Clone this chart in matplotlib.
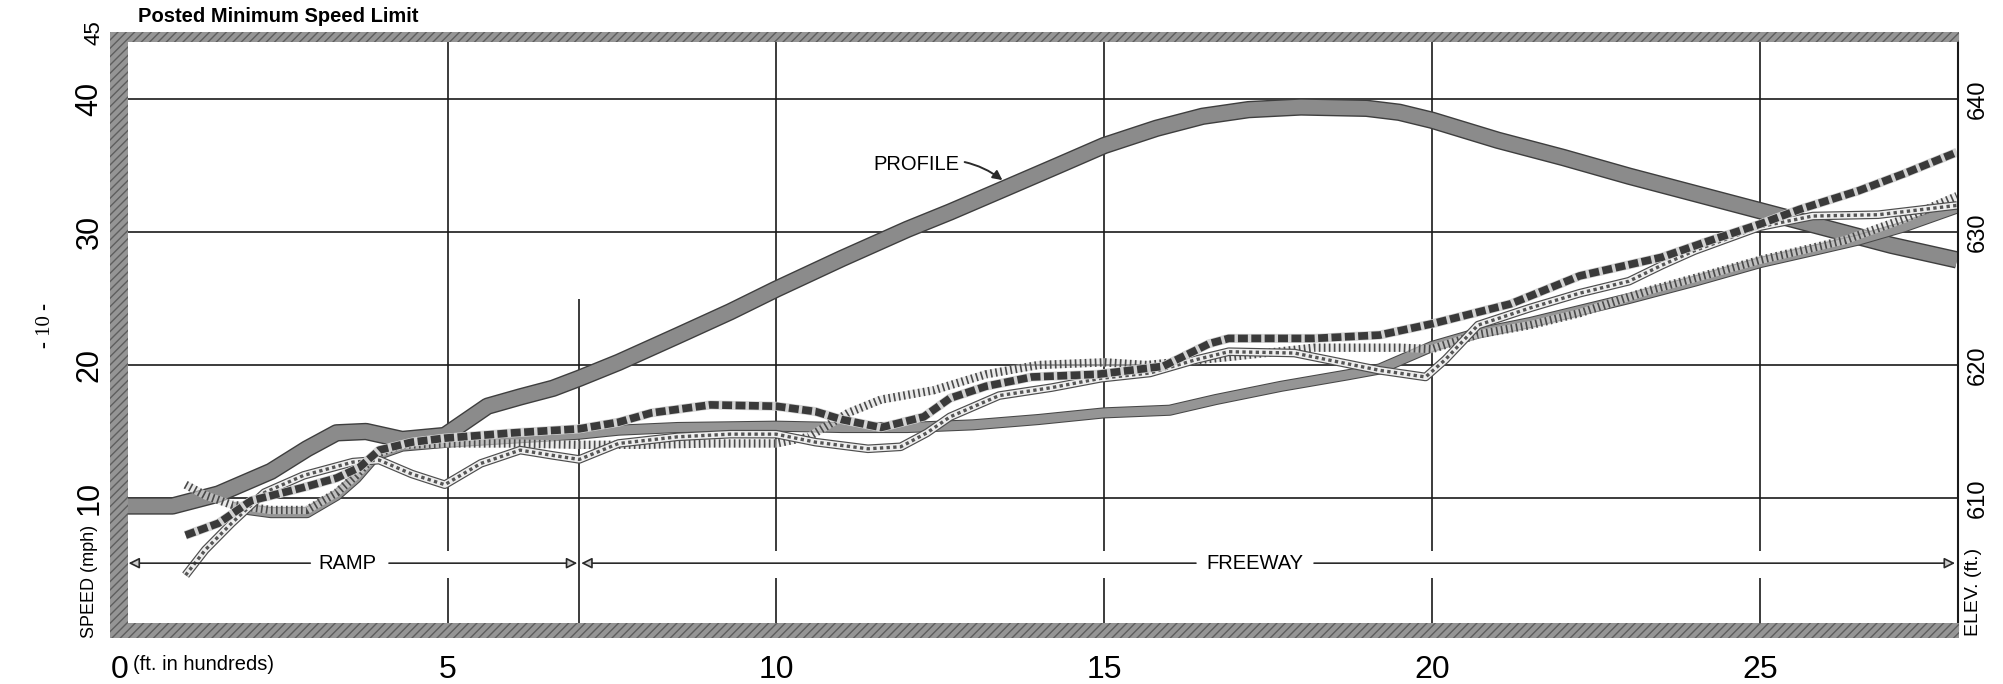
import matplotlib
matplotlib.use("Agg")
import matplotlib.pyplot as plt
from matplotlib.patches import Rectangle
import matplotlib.patheffects as pe

plt.rcParams['font.family'] = ['Liberation Sans', 'DejaVu Sans']

# station along the road, hundreds of feet
profile_x = [0, 0.8, 1.5, 2.3, 2.85, 3.3, 3.75, 4.3, 4.95, 5.6, 6.1, 6.6, 7.0, 7.6,
             8.5, 9.3, 10.0, 11.0, 12.0, 12.65, 13.5, 14.3, 15.0, 15.8, 16.5, 17.2,
             18.0, 19.0, 19.5, 20.0, 21.0, 22.0, 23.0, 24.0, 25.0, 26.0, 27.0, 28.0]
# roadway elevation, ft
profile_elev = [609.4, 609.4, 610.3, 612.0, 613.7, 614.9, 615.0, 614.4, 614.7, 616.9,
                617.6, 618.25, 619.0, 620.2, 622.2, 624.0, 625.7, 628.0, 630.2, 631.5,
                633.3, 635.0, 636.5, 637.8, 638.7, 639.2, 639.4, 639.3, 639.0, 638.4,
                636.9, 635.6, 634.2, 632.9, 631.6, 630.3, 629.0, 627.9]

# speed runs, mph
solid_x = [1.7, 2.3, 2.85, 3.3, 3.6, 3.9, 4.3, 5.0, 6.0, 7.0, 7.6, 8.5, 10.0, 11.0,
           12.0, 13.0, 14.0, 15.0, 16.0, 16.7, 17.7, 18.7, 19.2, 20.0, 20.7, 21.5,
           22.25, 23.0, 24.0, 25.0, 25.8, 26.5, 27.2, 28.0]
solid_mph = [9.3, 8.9, 8.9, 10.2, 11.5, 13.2, 13.9, 14.2, 14.5, 14.8, 15.1, 15.3, 15.4,
             15.3, 15.3, 15.5, 15.9, 16.4, 16.6, 17.4, 18.4, 19.25, 19.7, 21.4, 22.4,
             23.2, 24.1, 25.0, 26.3, 27.7, 28.6, 29.4, 30.4, 31.8]

hatch_x = [1.0, 1.3, 1.7, 2.3, 2.85, 3.3, 3.6, 3.9, 4.3, 5.0, 6.0, 7.0, 8.0, 9.0,
           10.0, 10.5, 11.1, 11.6, 12.4, 13.2, 14.0, 15.0, 15.65, 16.9, 18.2, 19.5,
           20.0, 20.7, 21.5, 22.25, 23.3, 24.2, 25.0, 25.7, 26.3, 27.2, 28.0]
hatch_mph = [11.0, 10.2, 9.5, 9.1, 9.1, 10.4, 11.7, 13.3, 14.0, 14.1, 14.1, 14.0, 14.0,
             14.1, 14.1, 14.6, 16.4, 17.4, 18.1, 19.3, 20.0, 20.2, 20.0, 20.6, 21.3,
             21.3, 21.2, 22.3, 23.0, 23.9, 25.6, 26.8, 27.9, 28.7, 29.4, 31.0, 32.7]

check_x = [1.0, 1.3, 1.7, 2.2, 2.8, 3.55, 3.95, 4.45, 4.95, 5.5, 6.1, 6.6, 7.0, 7.6,
           8.5, 9.3, 10.0, 10.6, 11.4, 11.9, 12.3, 12.65, 13.4, 14.2, 14.95, 15.7,
           16.4, 16.9, 17.9, 18.7, 19.2, 19.9, 20.2, 20.7, 21.5, 22.25, 23.0, 23.5,
           24.0, 25.0, 25.8, 26.8, 28.0]
check_mph = [4.2, 6.1, 8.1, 10.4, 11.7, 12.7, 12.85, 11.8, 11.0, 12.6, 13.6, 13.2, 12.9,
             14.1, 14.6, 14.8, 14.8, 14.2, 13.7, 13.85, 14.9, 16.1, 17.7, 18.3, 19.0,
             19.4, 20.4, 21.0, 20.9, 20.1, 19.6, 19.1, 20.4, 23.0, 24.3, 25.4, 26.3,
             27.5, 28.6, 30.4, 31.2, 31.3, 32.0]

block_x = [1.0, 1.5, 2.0, 2.8, 3.3, 3.65, 3.95, 4.45, 4.95, 6.0, 7.0, 7.6, 8.1, 9.0,
           10.0, 10.6, 11.0, 11.6, 12.25, 12.65, 13.2, 13.9, 14.9, 15.9, 16.6, 16.9,
           18.2, 19.2, 20.0, 21.2, 22.25, 23.5, 24.2, 25.0, 25.6, 26.5, 27.2, 28.0]
block_mph = [7.2, 8.1, 9.8, 10.8, 11.5, 12.3, 13.6, 14.2, 14.5, 14.9, 15.2, 15.7, 16.4,
             17.0, 16.9, 16.5, 15.9, 15.3, 16.1, 17.5, 18.4, 19.1, 19.3, 19.9, 21.6,
             22.0, 22.0, 22.25, 23.1, 24.6, 26.7, 28.1, 29.3, 30.6, 31.7, 33.1, 34.4,
             36.0]

x_ticks = [0, 5, 10, 15, 20, 25]
speed_ticks = [10, 20, 30, 40, 45]
elev_ticks = [610, 620, 630, 640]
ramp_end = 7

fig = plt.figure(figsize=(20.03, 6.84), dpi=100)
ax = fig.add_axes([120 / 2003, 53 / 684, 1837 / 2003, 598.5 / 684])
ax.set_xlim(0, 28)
ax.set_ylim(0, 45)
for s in ax.spines.values():
    s.set_visible(False)

# grid, broken where the ramp/freeway arrows run
ax.hlines([10, 20, 30, 40], 0, 28, color='#1a1a1a', lw=1.2, zorder=1)
for gx in x_ticks[1:]:
    ax.vlines(gx, 0, 4.0, color='#1a1a1a', lw=1.2, zorder=1)
    ax.vlines(gx, 6.0, 45, color='#1a1a1a', lw=1.2, zorder=1)
ax.vlines(ramp_end, 0, 25, color='#1a1a1a', lw=1.2, zorder=1)
ax.vlines(28.02, 0, 45, color='#1a1a1a', lw=1.5, zorder=1, clip_on=False)

# heavy border bars
bar = dict(facecolor='#959595', edgecolor='#5e5e5e', hatch='////', lw=0,
           clip_on=False, zorder=8)
ax.add_patch(Rectangle((-0.15, -0.55), 0.27, 45.6, **bar))
ax.add_patch(Rectangle((-0.15, 44.3), 28.18, 0.75, **bar))
ax.add_patch(Rectangle((-0.15, -0.55), 28.18, 1.15, **bar))

# elevation profile
prof = [e - 600 for e in profile_elev]
ax.plot(profile_x, prof, color='#8b8b8b', lw=10.5, solid_capstyle='butt', zorder=3,
        solid_joinstyle='round',
        path_effects=[pe.Stroke(linewidth=12.5, foreground='#3e3e3e'), pe.Normal()])

# speed runs
ax.plot(solid_x, solid_mph, color='#959595', lw=6.5, solid_capstyle='butt', zorder=4,
        solid_joinstyle='round',
        path_effects=[pe.Stroke(linewidth=8, foreground='#474747'), pe.Normal()])

ax.plot(hatch_x, hatch_mph, color='#dcdcdc', lw=6, solid_capstyle='butt', zorder=5,
        alpha=0.6)
ax.plot(hatch_x, hatch_mph, color='#4a4a4a', lw=6, zorder=5,
        linestyle=(0, (0.2, 0.4)), dash_capstyle='butt')

ax.plot(check_x, check_mph, color='#eeeeee', lw=4.5, solid_capstyle='butt', zorder=6,
        solid_joinstyle='round',
        path_effects=[pe.Stroke(linewidth=6.2, foreground='#4d4d4d'), pe.Normal()])
ax.plot(check_x, check_mph, color='#555555', lw=2.4, zorder=6,
        linestyle=(0, (1, 1)), dash_capstyle='butt')

ax.plot(block_x, block_mph, color='#d2d2d2', lw=6.5, solid_capstyle='butt', zorder=7)
ax.plot(block_x, block_mph, color='#3a3a3a', lw=5.5, zorder=7,
        linestyle=(0, (1.3, 0.45)), dash_capstyle='butt')

# ramp / freeway extent
arrow_y = 5.1
arr = dict(arrowstyle='-|>', edgecolor='#2a2a2a', facecolor='#cccccc', lw=1.2,
           mutation_scale=16, shrinkA=0, shrinkB=0)
ax.text(3.47, arrow_y, 'RAMP', fontsize=14.5, ha='center', va='center', zorder=9)
ax.annotate('', xy=(0.13, arrow_y), xytext=(2.9, arrow_y), arrowprops=arr, zorder=9)
ax.annotate('', xy=(ramp_end - 0.03, arrow_y), xytext=(4.1, arrow_y), arrowprops=arr)
ax.text(17.3, arrow_y, 'FREEWAY', fontsize=14.5, ha='center', va='center', zorder=9)
ax.annotate('', xy=(ramp_end + 0.03, arrow_y), xytext=(16.4, arrow_y), arrowprops=arr)
ax.annotate('', xy=(27.97, arrow_y), xytext=(18.2, arrow_y), arrowprops=arr)

ax.annotate('PROFILE', xy=(13.45, 33.9), xytext=(11.48, 35.1), fontsize=14.5,
            ha='left', va='center',
            arrowprops=dict(arrowstyle='-|>', color='#2a2a2a', lw=1.4,
                            mutation_scale=14, shrinkA=2, shrinkB=0,
                            connectionstyle='arc3,rad=-0.25'))

# axes labels
ax.set_xticks(x_ticks)
ax.set_xticklabels([str(v) for v in x_ticks], fontsize=23)
ax.set_yticks(speed_ticks)
ax.set_yticklabels([str(v) for v in speed_ticks], fontsize=22, rotation=90, va='center')
ax.get_yticklabels()[-1].set_fontsize(16)
ax.tick_params(axis='both', length=0)
ax.tick_params(axis='x', pad=17)
ax.tick_params(axis='y', pad=11)

sec = ax.secondary_yaxis('right', functions=(lambda s: s + 600, lambda e: e - 600))
sec.set_yticks(elev_ticks)
sec.set_yticklabels([str(v) for v in elev_ticks], fontsize=17, rotation=90, va='center')
sec.tick_params(length=0, pad=7)
sec.spines['right'].set_visible(False)

ax.text(-0.47, 3.7, 'SPEED (mph)', rotation=90, fontsize=13, ha='center',
        va='center', clip_on=False)
ax.text(28.25, 2.9, 'ELEV. (ft.)', rotation=90, fontsize=14, ha='center',
        va='center', clip_on=False)
ax.text(0.2, -2.5, '(ft. in hundreds)', fontsize=14.5, ha='left', va='center',
        clip_on=False)

fig.text(138 / 2003, 1 - 17 / 684, 'Posted Minimum Speed Limit', fontsize=14.5,
         fontweight='bold', ha='left', va='center')
fig.text(45 / 2003, 1 - 326 / 684, '- 10 -', rotation=90, fontsize=15,
         family='Liberation Serif', ha='center', va='center')

fig.savefig('out.png', dpi=100)
